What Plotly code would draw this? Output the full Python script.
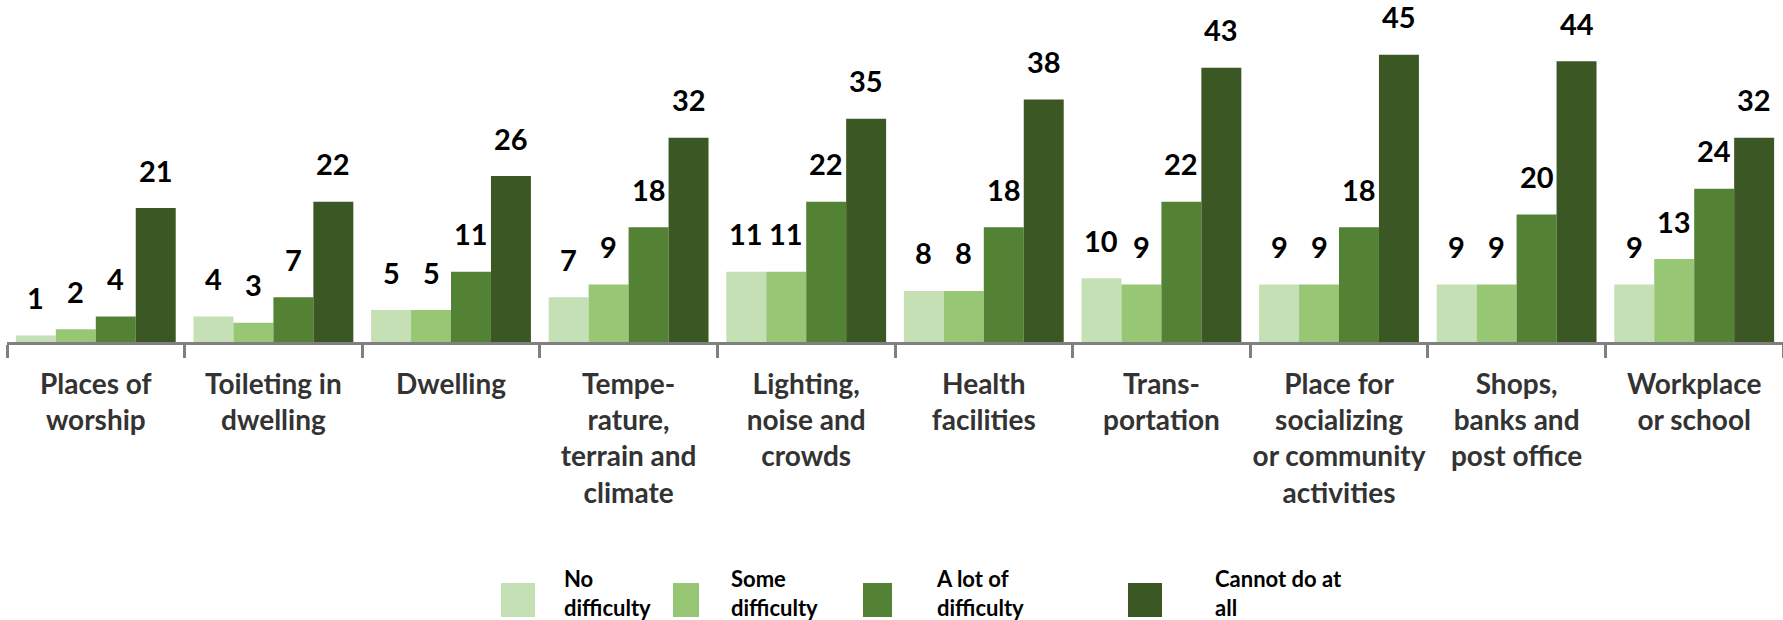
import plotly.graph_objects as go

categories = [
    "Places of<br>worship",
    "Toileting in<br>dwelling",
    "Dwelling",
    "Tempe-<br>rature,<br>terrain and<br>climate",
    "Lighting,<br>noise and<br>crowds",
    "Health<br>facilities",
    "Trans-<br>portation",
    "Place for<br>socializing<br>or community<br>activities",
    "Shops,<br>banks and<br>post office",
    "Workplace<br>or school",
]
series_names = ["No difficulty", "Some difficulty", "A lot of difficulty", "Cannot do at all"]
legend_labels = ["No<br>difficulty", "Some<br>difficulty", "A lot of<br>difficulty", "Cannot do at<br>all"]
no_difficulty = [1, 4, 5, 7, 11, 8, 10, 9, 9, 9]
some_difficulty = [2, 3, 5, 9, 11, 8, 9, 9, 9, 13]
lot_difficulty = [4, 7, 11, 18, 22, 18, 22, 18, 20, 24]
cannot_do = [21, 22, 26, 32, 35, 38, 43, 45, 44, 32]
series_values = [no_difficulty, some_difficulty, lot_difficulty, cannot_do]
colors = ["#C5E0B4", "#97C674", "#548235", "#3A5724"]

W, H = 1783, 620
ML, MR, MT, MB = 7, 0, 0, 278
plot_w = W - ML - MR
plot_h = H - MT - MB
bargap = 0.1
bar_px = plot_w / len(categories) * (1 - bargap) / len(series_names)

FONT = "Lato, Liberation Sans, sans-serif"

fig = go.Figure()
for name, vals, col in zip(series_names, series_values, colors):
    fig.add_trace(go.Bar(x=categories, y=vals, name=name, marker_color=col,
                         marker_line_width=0, showlegend=False))

annotations = []
for k, vals in enumerate(series_values):
    for cat, v in zip(categories, vals):
        annotations.append(dict(
            x=cat, y=v, xref="x", yref="y", text=str(v), showarrow=False,
            xshift=(k - 1.5) * bar_px, yshift=38, yanchor="middle",
            font=dict(family=FONT, size=29, color="#000000", weight=700)))


def px_x(p):
    return (p - ML) / plot_w


def px_y(p):
    return (H - MB - p) / plot_h


legend_sq = [(501, 535), (673, 699), (863, 892), (1128, 1162)]
legend_txt_left = [564, 731, 936, 1215]
shapes = []
for i, (lab, col) in enumerate(zip(legend_labels, colors)):
    x0, x1 = legend_sq[i]
    shapes.append(dict(type="rect", xref="paper", yref="paper",
                       x0=px_x(x0), x1=px_x(x1),
                       y0=px_y(617), y1=px_y(583), fillcolor=col, line_width=0))
    annotations.append(dict(xref="paper", yref="paper", x=px_x(legend_txt_left[i]),
                            y=px_y(593), xanchor="left", yanchor="middle", align="left",
                            text=lab, showarrow=False, xshift=-2,
                            font=dict(family=FONT, size=22, color="#000000", weight=700)))

fig.update_layout(
    width=W, height=H,
    margin=dict(l=ML, r=MR, t=MT, b=MB, pad=0),
    barmode="group", bargap=bargap, bargroupgap=0,
    plot_bgcolor="white", paper_bgcolor="white",
    annotations=annotations, shapes=shapes,
    showlegend=False,
)
fig.update_xaxes(
    showline=True, linecolor="#808080", linewidth=3,
    ticks="outside", tickson="boundaries", ticklen=13, tickwidth=3, tickcolor="#808080",
    tickfont=dict(family=FONT, size=28, color="#333333", weight=700),
    ticklabelstandoff=15,
    showgrid=False, tickangle=0,
)
fig.update_yaxes(range=[0, 53.6], visible=False, showgrid=False)

fig.write_html("out.html", config={"displayModeBar": False},
               post_script="document.body.style.margin='0';document.body.style.overflow='hidden';")
